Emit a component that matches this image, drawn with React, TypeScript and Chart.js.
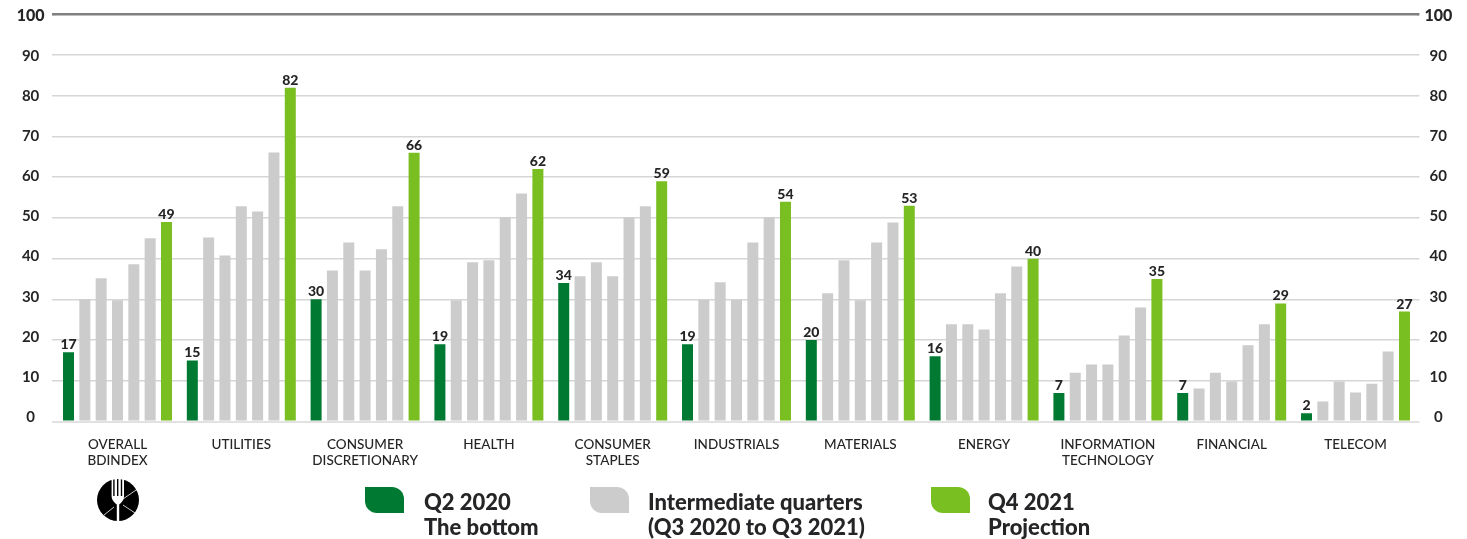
import React, { useEffect, useRef } from "react";
import { Chart, registerables } from "chart.js";

Chart.register(...registerables);

const categories: string[][] = [
  ["OVERALL", "BDINDEX"],
  ["UTILITIES"],
  ["CONSUMER", "DISCRETIONARY"],
  ["HEALTH"],
  ["CONSUMER", "STAPLES"],
  ["INDUSTRIALS"],
  ["MATERIALS"],
  ["ENERGY"],
  ["INFORMATION", "TECHNOLOGY"],
  ["FINANCIAL"],
  ["TELECOM"],
];

const q2_2020 = [17, 15, 30, 19, 34, 19, 20, 16, 7, 7, 2];
const q3_2020 = [30, 45.2, 37.1, 29.8, 35.7, 29.9, 31.5, 23.9, 12, 8.1, 4.9];
const q4_2020 = [35.2, 40.8, 44, 39.1, 39.1, 34.2, 39.6, 23.9, 14, 12, 9.8];
const q1_2021 = [29.8, 52.9, 37.1, 39.6, 35.7, 29.9, 29.8, 22.6, 14, 9.8, 7.1];
const q2_2021 = [38.6, 51.6, 42.3, 50.2, 50.2, 44, 44, 31.5, 21.1, 18.7, 9.3];
const q3_2021 = [45, 66.1, 52.9, 56, 52.9, 50.2, 48.9, 38.1, 28, 23.9, 17.2];
const q4_2021 = [49, 82, 66, 62, 59, 54, 53, 40, 35, 29, 27];

const DARK_GREEN = "#007a33";
const GREY = "#cccccc";
const LIME = "#7abf21";
const INK = "#252527";
const FONT = "Lato, 'Open Sans', sans-serif";

const legendItems = [
  { color: DARK_GREEN, swatchX: 365, textX: 424, lines: ["Q2 2020", "The bottom"] },
  { color: GREY, swatchX: 590, textX: 648, lines: ["Intermediate quarters", "(Q3 2020 to Q3 2021)"] },
  { color: LIME, swatchX: 931, textX: 988, lines: ["Q4 2021", "Projection"] },
];

// Writes the value above the first and last bar of each group.
const endBarLabels = {
  id: "endBarLabels",
  afterDatasetsDraw(chart: any) {
    const { ctx } = chart;
    ctx.save();
    ctx.font = `900 14px ${FONT}`;
    ctx.fillStyle = INK;
    ctx.textAlign = "center";
    ctx.textBaseline = "alphabetic";
    [0, 6].forEach((index) => {
      const values = chart.data.datasets[index].data;
      chart.getDatasetMeta(index).data.forEach((bar: any, i: number) => {
        ctx.fillText(String(values[i]), bar.x, bar.y - 3);
      });
    });
    ctx.restore();
  },
};

// The value labels run on a slightly tighter pitch than the gridlines,
// sitting above the line at the bottom and just below it at the top.
const tightTickLabels = {
  id: "tightTickLabels",
  afterLayout(chart: any) {
    [chart.scales.y, chart.scales.y2].forEach((scale: any) => {
      scale.getLabelItems().forEach((item: any, i: number) => {
        const value = scale.ticks[i].value;
        item.options.translation[1] += -4.6 + 0.064 * value;
      });
    });
  },
};

const lineColor = (value?: number) =>
  value === 100 ? "#808080" : value === 0 ? "#e2e2e2" : "#d6d6d6";
const lineWidth = (value?: number) => (value === 100 ? 2.6 : value === 0 ? 2 : 1.5);

const valueAxis = (position: "left" | "right", tickLength: number, padding: number, width: number) => ({
  position,
  min: 0,
  max: 100,
  border: { display: false },
  grid: {
    drawOnChartArea: position === "left",
    drawTicks: true,
    tickLength,
    color: (c: any) => lineColor(c.tick?.value),
    lineWidth: (c: any) => lineWidth(c.tick?.value),
    tickColor: (c: any) => lineColor(c.tick?.value),
    tickWidth: (c: any) => lineWidth(c.tick?.value),
  },
  ticks: {
    stepSize: 10,
    padding,
    crossAlign: "center",
    color: INK,
    font: (c: any) => ({
      family: FONT,
      size: c.tick?.value === 100 ? 16 : 15,
      weight: c.tick?.value === 100 ? "900" : "700",
    }),
  },
  afterFit(scale: any) {
    scale.width = width;
    scale.paddingTop = 0;
    scale.paddingBottom = 0;
  },
});

function ForkBadge() {
  return (
    <svg
      width={44}
      height={44}
      viewBox="0 0 44 44"
      style={{ position: "absolute", left: 96, top: 478 }}
    >
      <circle cx={22} cy={22} r={21} fill="#000" />
      <path
        d="M27 21L41.5 11M27 27L39 35M18 29L8 37"
        stroke="#fff"
        strokeWidth={0.8}
        fill="none"
      />
      <path
        d="M15.6 1h1.6v17h1.4V1h2.4v17h1.4V1h2.4v17h1.4V1H28v17c0 4-2.4 6.5-4.8 8.5V44h-2.4V26.5c-2.4-2-5.2-4.5-5.2-8.5z"
        fill="#fff"
      />
    </svg>
  );
}

export default function App() {
  const canvasRef = useRef<HTMLCanvasElement>(null);

  useEffect(() => {
    if (!canvasRef.current) return;
    const series = [q2_2020, q3_2020, q4_2020, q1_2021, q2_2021, q3_2021, q4_2021];
    const chart = new Chart(canvasRef.current, {
      type: "bar",
      data: {
        labels: categories,
        datasets: series.map((data, i) => ({
          data,
          backgroundColor: i === 0 ? DARK_GREEN : i === 6 ? LIME : GREY,
          categoryPercentage: 0.9233,
          barPercentage: 0.6736,
          yAxisID: "y",
        })),
      } as any,
      options: {
        responsive: false,
        animation: false,
        layout: { padding: { top: 14.4, left: 0, right: 0, bottom: 0 } },
        plugins: {
          legend: { display: false },
          title: { display: false },
          tooltip: { enabled: false },
        },
        scales: {
          x: {
            border: { display: false },
            grid: { display: false },
            ticks: {
              autoSkip: false,
              maxRotation: 0,
              padding: 7,
              color: INK,
              font: { family: FONT, size: 13.5, weight: "500", lineHeight: 1.18 },
            },
            afterFit(scale: any) {
              scale.height = 117.5;
            },
          },
          y: valueAxis("left", 3.6, 7.5, 55.6),
          y2: valueAxis("right", 2, 5, 49.6),
        },
      } as any,
      plugins: [endBarLabels, tightTickLabels],
    });
    return () => chart.destroy();
  }, []);

  return (
    <div style={{ position: "absolute", left: 0, top: 0, width: 1467, height: 539, background: "#fff", overflow: "hidden" }}>
      <canvas ref={canvasRef} width={1467} height={539} style={{ display: "block" }} />
      <ForkBadge />
      {legendItems.map((item) => (
        <React.Fragment key={item.textX}>
          <div
            style={{
              position: "absolute",
              left: item.swatchX,
              top: 487,
              width: 39,
              height: 26,
              background: item.color,
              borderTopRightRadius: 12,
              borderBottomLeftRadius: 12,
            }}
          />
          <div
            style={{
              position: "absolute",
              left: item.textX,
              top: 489,
              font: `900 22px/25px ${FONT}`,
              color: INK,
              whiteSpace: "nowrap",
            }}
          >
            {item.lines.map((line) => (
              <div key={line}>{line}</div>
            ))}
          </div>
        </React.Fragment>
      ))}
    </div>
  );
}
